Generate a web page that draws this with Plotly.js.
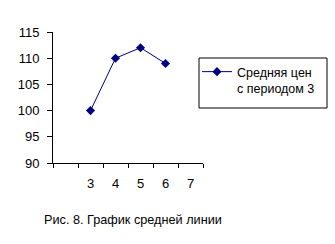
<!DOCTYPE html>
<html><head><meta charset="utf-8">
<script src="https://cdn.plot.ly/plotly-3.0.1.min.js"></script>
<style>body{margin:0;background:#fff}#c{width:335px;height:244px}</style>
</head><body><div id="c"></div>
<script>
const categories = [" ", "3", "4", "5", "6", "7"];
const periods = ["3", "4", "5", "6"];
const avgValues = [100, 110, 112, 109];
const seriesName = "Средняя цен<br>с периодом 3";
const caption = "Рис. 8. График средней линии";

const trace = {
  x: periods, y: avgValues, type: "scatter", mode: "lines+markers",
  name: seriesName,
  line: {color: "#000080", width: 1},
  marker: {symbol: "diamond", size: 7, color: "#000080"}
};
const font = {family: "Liberation Sans, Arial, sans-serif", size: 13, color: "#000"};
const L = 53, R = 203, T = 32, B = 163;
const px = v => (v - L) / (R - L);
const py = v => (B - v) / (B - T);
const layout = {
  width: 335, height: 244,
  margin: {l: L, r: 335 - R, t: T, b: 244 - B, autoexpand: false},
  paper_bgcolor: "#fff", plot_bgcolor: "#fff",
  font: font,
  showlegend: true,
  xaxis: {
    type: "category", categoryorder: "array", categoryarray: categories,
    range: [-0.5, 5.5], tickson: "boundaries", ticks: "outside", ticklen: 4,
    tickcolor: "#000", showline: true, linecolor: "#000", linewidth: 1,
    showgrid: false, zeroline: false, ticklabelstandoff: 8, fixedrange: true
  },
  yaxis: {
    range: [90, 115], dtick: 5, tick0: 90, ticks: "outside", ticklen: 5,
    tickcolor: "#000", showline: true, linecolor: "#000", linewidth: 1,
    showgrid: false, zeroline: false, ticklabelstandoff: 5, fixedrange: true
  },
  legend: {
    xref: "container", yref: "container",
    x: 197/335, y: 1 - 57/244, xanchor: "left", yanchor: "top",
    borderwidth: 0, bgcolor: "rgba(0,0,0,0)",
    font: {family: font.family, size: 12.5, color: "#000"}, valign: "top"
  },
  shapes: [{
    type: "rect", xref: "paper", yref: "paper",
    x0: px(199), x1: px(327), y0: py(58), y1: py(108),
    line: {color: "#000", width: 1}, fillcolor: "rgba(0,0,0,0)", layer: "above"
  }],
  annotations: [{
    text: caption, xref: "paper", yref: "paper",
    x: px(42), y: py(220), xanchor: "left", yanchor: "middle",
    showarrow: false, font: {family: font.family, size: 12.7, color: "#000"}
  }]
};
Plotly.newPlot("c", [trace], layout, {staticPlot: true, displayModeBar: false});
</script></body></html>
